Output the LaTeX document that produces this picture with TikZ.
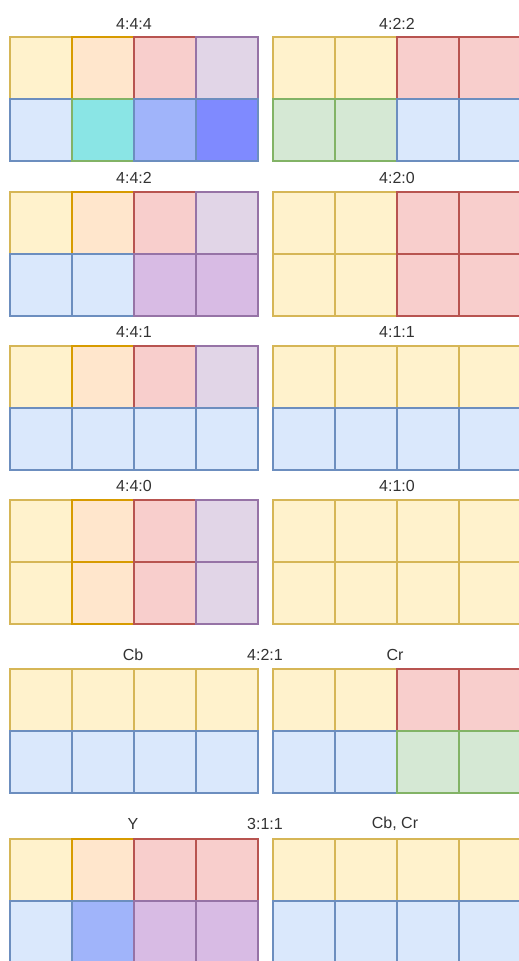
\documentclass[tikz,border=0pt]{standalone}
\usepackage{fontspec}
\setmainfont{Liberation Sans}
\usepackage{tikz}

\definecolor{ylwF}{HTML}{FFF2CC}\definecolor{ylwD}{HTML}{D6B656}
\definecolor{orgF}{HTML}{FFE6CC}\definecolor{orgD}{HTML}{D79B00}
\definecolor{redF}{HTML}{F8CECC}\definecolor{redD}{HTML}{B85450}
\definecolor{prpF}{HTML}{E1D5E7}\definecolor{prpD}{HTML}{9673A6}
\definecolor{bluF}{HTML}{DAE8FC}\definecolor{bluD}{HTML}{6C8EBF}
\definecolor{grnF}{HTML}{D5E8D4}\definecolor{grnD}{HTML}{82B366}
\definecolor{cynF}{HTML}{8AE5E5}
\definecolor{bltF}{HTML}{A0B4FA}
\definecolor{bldF}{HTML}{7F8AFF}
\definecolor{pdkF}{HTML}{D8BBE4}
\definecolor{txt}{HTML}{333333}

\tikzset{
    ylw/.style={fill=ylwF, draw=ylwD},
    org/.style={fill=orgF, draw=orgD},
    rd/.style={fill=redF, draw=redD},
    prp/.style={fill=prpF, draw=prpD},
    blu/.style={fill=bluF, draw=bluD},
    grn/.style={fill=grnF, draw=grnD},
    cyn/.style={fill=cynF, draw=grnD},
    blt/.style={fill=bltF, draw=bluD},
    bld/.style={fill=bldF, draw=bluD},
    pdk/.style={fill=pdkF, draw=prpD},
    lbl/.style={text=txt, font=\fontsize{16}{19}\selectfont, inner sep=0pt}
}

% one row of four cells
\newcommand{\cellrow}[3]{%
    \foreach \st [count=\i from 0] in {#3}
        \draw[\st] ({#1+62*\i},#2) rectangle ++(62,62);
}

\begin{document}
\begin{tikzpicture}[x=1pt, y=-1pt, line width=1.2pt]
    \useasboundingbox[fill=white] (0,0) rectangle (519,961);
    \clip (0,0) rectangle (519,961);

    % 4:4:4 and 4:2:2
    \node[lbl] (t444) at (134,23.5) {4:4:4};
    \cellrow{10}{37}{ylw,org,rd,prp}
    \cellrow{10}{99}{blu,cyn,blt,bld}
    \node[lbl] (t422) at (397,23.5) {4:2:2};
    \cellrow{273}{37}{ylw,ylw,rd,rd}
    \cellrow{273}{99}{grn,grn,blu,blu}

    % 4:4:2 and 4:2:0
    \node[lbl] (t442) at (134,178) {4:4:2};
    \cellrow{10}{192}{ylw,org,rd,prp}
    \cellrow{10}{254}{blu,blu,pdk,pdk}
    \node[lbl] (t420) at (397,178) {4:2:0};
    \cellrow{273}{192}{ylw,ylw,rd,rd}
    \cellrow{273}{254}{ylw,ylw,rd,rd}

    % 4:4:1 and 4:1:1
    \node[lbl] (t441) at (134,332) {4:4:1};
    \cellrow{10}{346}{ylw,org,rd,prp}
    \cellrow{10}{408}{blu,blu,blu,blu}
    \node[lbl] (t411) at (397,332) {4:1:1};
    \cellrow{273}{346}{ylw,ylw,ylw,ylw}
    \cellrow{273}{408}{blu,blu,blu,blu}

    % 4:4:0 and 4:1:0
    \node[lbl] (t440) at (134,486) {4:4:0};
    \cellrow{10}{500}{ylw,org,rd,prp}
    \cellrow{10}{562}{ylw,org,rd,prp}
    \node[lbl] (t410) at (397,486) {4:1:0};
    \cellrow{273}{500}{ylw,ylw,ylw,ylw}
    \cellrow{273}{562}{ylw,ylw,ylw,ylw}

    % 4:2:1
    \node[lbl] (cb) at (133,655) {Cb};
    \node[lbl] (t421) at (265,655) {4:2:1};
    \node[lbl] (cr) at (395,655) {Cr};
    \cellrow{10}{669}{ylw,ylw,ylw,ylw}
    \cellrow{10}{731}{blu,blu,blu,blu}
    \cellrow{273}{669}{ylw,ylw,rd,rd}
    \cellrow{273}{731}{blu,blu,grn,grn}

    % 3:1:1
    \node[lbl] (y) at (133,824) {Y};
    \node[lbl] (t311) at (265,824) {3:1:1};
    \node[lbl] (cbcr) at (395,824) {Cb, Cr};
    \cellrow{10}{839}{ylw,org,rd,rd}
    \cellrow{10}{901}{blu,blt,pdk,pdk}
    \cellrow{273}{839}{ylw,ylw,ylw,ylw}
    \cellrow{273}{901}{blu,blu,blu,blu}
\end{tikzpicture}
\end{document}
